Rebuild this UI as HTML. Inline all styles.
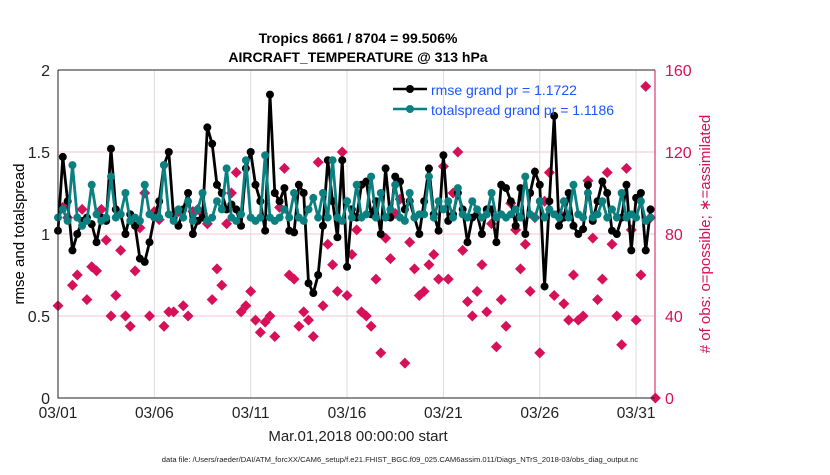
<!DOCTYPE html>
<html><head><meta charset="utf-8"><style>
body{margin:0;background:#fff;}
svg text{font-family:"Liberation Sans",sans-serif;}
</style></head><body>
<svg id="chart" width="830" height="470" xmlns="http://www.w3.org/2000/svg">
<text x="358" y="43" text-anchor="middle" font-size="14" font-weight="bold">Tropics 8661 / 8704 = 99.506%</text>
<text x="358" y="62" text-anchor="middle" font-size="14" font-weight="bold">AIRCRAFT_TEMPERATURE @ 313 hPa</text>
<g id="grid"></g>
<g id="marks"></g>
<g id="axes"></g>
<text transform="translate(24,234) rotate(-90)" text-anchor="middle" font-size="15">rmse and totalspread</text>
<text transform="translate(710,234) rotate(-90)" text-anchor="middle" font-size="15" fill="#d6115a"># of obs: o=possible; ∗=assimilated</text>
<text x="358" y="441" text-anchor="middle" font-size="15" fill="#222">Mar.01,2018 00:00:00 start</text>
<text x="400" y="462" text-anchor="middle" font-size="7.6" fill="#222">data file: /Users/raeder/DAI/ATM_forcXX/CAM6_setup/f.e21.FHIST_BGC.f09_025.CAM6assim.011/Diags_NTrS_2018-03/obs_diag_output.nc</text>
<g>
<line x1="393" y1="89" x2="427" y2="89" stroke="#000" stroke-width="2.5"/>
<circle cx="410" cy="89" r="4" fill="#000"/>
<text x="431" y="95" font-size="14" fill="#1a55ff">rmse grand pr = 1.1722</text>
<line x1="393" y1="109" x2="427" y2="109" stroke="#0b8080" stroke-width="2.5"/>
<circle cx="410" cy="109" r="4" fill="#0b8080"/>
<text x="431" y="115" font-size="14" fill="#1a55ff">totalspread grand pr = 1.1186</text>
</g>
</svg>
<script>
const dayTicks=["03/01","03/06","03/11","03/16","03/21","03/26","03/31"];
const leftTicks=[0,0.5,1,1.5,2];
const rightTicks=[0,40,80,120,160];
const rmse=[1.02,1.47,1.20,0.90,1.00,1.08,1.10,1.06,
0.95,1.10,1.08,1.52,1.15,1.12,1.00,1.12,
1.05,0.85,0.83,0.95,1.10,1.20,1.42,1.50,
1.10,1.05,1.15,1.25,1.00,1.08,1.10,1.65,
1.55,1.30,1.25,1.15,1.18,1.15,1.05,1.40,
1.50,1.30,1.20,1.02,1.85,1.25,1.20,1.28,
1.02,1.01,1.30,1.25,0.70,0.64,0.75,1.05,
1.45,1.20,0.98,1.45,0.80,1.15,1.10,1.30,
1.32,1.12,1.20,1.00,1.40,1.10,1.35,1.32,
1.15,1.20,1.10,1.00,1.20,1.40,1.12,1.02,
1.48,1.08,1.12,1.25,1.15,0.95,1.10,1.12,
1.00,1.15,1.15,0.95,1.30,1.28,1.20,1.05,
1.28,1.00,1.25,1.38,1.30,0.68,1.20,1.72,
1.05,1.10,1.25,1.05,1.00,1.03,1.30,1.08,
1.20,1.32,1.25,1.02,1.00,1.10,1.30,0.90,
1.22,1.25,0.90,1.15];
const spread=[1.10,1.15,1.08,1.42,1.10,1.05,1.08,1.30,
1.12,1.08,1.10,1.35,1.10,1.12,1.25,1.08,
1.10,1.08,1.30,1.12,1.10,1.10,1.42,1.12,
1.08,1.15,1.10,1.20,1.08,1.15,1.25,1.08,
1.10,1.20,1.15,1.40,1.10,1.08,1.12,1.45,
1.10,1.08,1.10,1.48,1.10,1.08,1.10,1.15,
1.10,1.25,1.10,1.08,1.15,1.22,1.10,1.25,
1.10,1.45,1.10,1.08,1.20,1.10,1.30,1.10,
1.12,1.35,1.10,1.25,1.10,1.15,1.30,1.10,
1.08,1.25,1.10,1.12,1.12,1.35,1.10,1.20,
1.15,1.20,1.10,1.28,1.12,1.10,1.20,1.15,
1.10,1.12,1.25,1.10,1.12,1.10,1.12,1.15,
1.10,1.35,1.12,1.10,1.20,1.10,1.15,1.12,
1.10,1.20,1.10,1.30,1.12,1.10,1.25,1.10,
1.12,1.20,1.10,1.15,1.10,1.25,1.10,1.12,
1.10,1.20,1.08,1.10];
const obs=[45,93,88,55,60,92,48,64,
62,92,77,40,50,72,40,35,
62,83,100,40,91,87,35,42,
42,91,45,40,91,92,90,85,
48,63,55,85,100,110,42,45,
52,38,32,37,40,30,93,112,
60,58,35,42,38,30,115,45,
75,65,52,120,50,70,82,42,
40,35,58,22,78,68,90,97,
17,76,63,50,52,65,70,58,
113,58,100,120,72,47,40,52,
65,42,85,25,48,35,95,82,
63,75,52,88,22,96,110,50,
90,46,38,60,38,40,106,78,
48,58,110,75,40,26,112,82,
38,60,152,88,0];
const X0=58,X1=655,Y0=398,Y1=70,DX=19.27/4;
const xs=i=>X0+i*DX;
const xd=d=>X0+d*19.27;
const yl=v=>Y0-(v/2)*(Y0-Y1);
const yr=v=>Y0-(v/160)*(Y0-Y1);
const NS="http://www.w3.org/2000/svg";
function mk(tag,attrs,parent){const e=document.createElementNS(NS,tag);for(const k in attrs)e.setAttribute(k,attrs[k]);parent.appendChild(e);return e;}
const grid=document.getElementById('grid'),marks=document.getElementById('marks'),axes=document.getElementById('axes');
dayTicks.forEach((t,k)=>{const x=xd(k*5);
const g=mk('line',{x1:x,x2:x,y1:Y1,y2:Y0,stroke:'#dcdcdc','stroke-width':1},grid);


const tx=mk('text',{x:x,y:418,'text-anchor':'middle','font-size':15.5,fill:'#222'},axes);tx.textContent=t;

});
rightTicks.forEach(v=>{const y=yr(v);
if(v>0&&v<160){const g=mk('line',{x1:X0,x2:X1,y1:y,y2:y,stroke:'#f6c6d6','stroke-width':1},grid);

}
const tx=mk('text',{x:X1+10,y:y+6,'font-size':16,fill:'#d6115a'},axes);tx.textContent=v;

});
leftTicks.forEach(v=>{const y=yl(v);
const tx=mk('text',{x:X0-8,y:y+6,'text-anchor':'end','font-size':16,fill:'#222'},axes);tx.textContent=v;

});
obs.forEach((v,i)=>{const x=xs(i),y=yr(v);
const d=mk('path',{d:`M${x} ${y-5.5}L${x+5.5} ${y}L${x} ${y+5.5}L${x-5.5} ${y}Z`,fill:'#d6115a'},marks);

});
function series(arr,col,name){
const p=mk('polyline',{points:arr.map((v,i)=>xs(i)+','+yl(v)).join(' '),fill:'none',stroke:col,'stroke-width':2.8},marks);


arr.forEach((v,i)=>{const c=mk('circle',{cx:xs(i),cy:yl(v),r:4,fill:col},marks);

});}
series(rmse,'#000','rmse');
series(spread,'#0b8080','totalspread');
const fr=mk('path',{d:`M${X0} ${Y1}V${Y0}H${X1}`,fill:'none',stroke:'#222','stroke-width':1},axes);


const tp=mk('line',{x1:X0,x2:X1,y1:Y1,y2:Y1,stroke:'#222','stroke-width':1},axes);


const ra=mk('line',{x1:X1,x2:X1,y1:Y1,y2:Y0,stroke:'#d6115a','stroke-width':1},axes);


</script>
</body></html>
